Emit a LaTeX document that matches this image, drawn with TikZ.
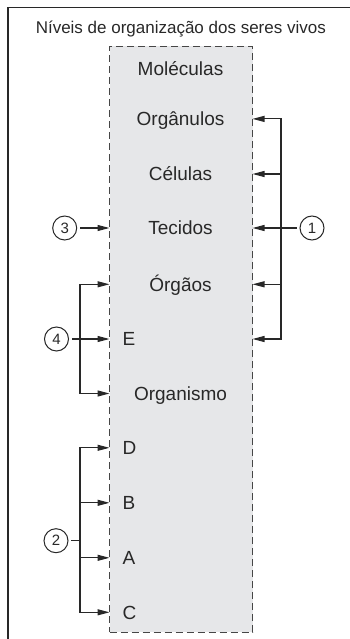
\documentclass[tikz,border=0pt]{standalone}
\usepackage{fontspec}
\setmainfont{Liberation Sans}
\usetikzlibrary{arrows.meta}
\definecolor{ink}{RGB}{40,40,40}
\definecolor{boxfill}{RGB}{230,231,233}
\definecolor{dashc}{RGB}{70,70,70}
\begin{document}
\begin{tikzpicture}[x=1pt,y=-1pt,
  lvl/.style={font=\fontsize{19}{19}\selectfont, text=ink, inner sep=0pt, text height=13.4pt, text depth=0pt},
  letter/.style={lvl, anchor=west},
  num/.style={draw=ink, circle, line width=1pt, minimum size=24pt, inner sep=0pt, font=\fontsize{15}{15}\selectfont, text=ink},
  conn/.style={draw=ink, line width=1.1pt, line cap=rect},
  arr/.style={draw=ink, line width=1.1pt, -{Triangle[length=12pt,width=6pt]}},
]
\useasboundingbox (0,0) rectangle (349,639);
\draw[ink, line width=1.6pt] (8,650) -- (8,7.5) -- (360,7.5);
\node[font=\fontsize{17}{17}\selectfont, text=ink, inner sep=0pt, text height=12.2pt, text depth=0pt] (title) at (180.8,27.5) {Níveis de organização dos seres vivos};
\node[draw=dashc, dash pattern=on 7pt off 4pt, fill=boxfill, line width=0.9pt, minimum width=143pt, minimum height=585.5pt, inner sep=0pt, outer sep=0pt] (box) at (181,339.25) {};

\node[lvl] (mol)  at (180.5,68.8)  {Moléculas};
\node[lvl] (orgn) at (180.5,118.9) {Orgânulos};
\node[lvl] (cel)  at (180.5,174)   {Células};
\node[lvl] (tec)  at (180.5,228)   {Tecidos};
\node[lvl] (orgs) at (180.5,284.3) {Órgãos};
\node[letter] (E) at (122.5,339)   {E};
\node[lvl] (orgm) at (180.5,393.5) {Organismo};
\node[letter] (D) at (122.5,447.8) {D};
\node[letter] (B) at (122.5,502.8) {B};
\node[letter] (A) at (122.5,557.8) {A};
\node[letter] (C) at (122.5,612.3) {C};

\node[num] (c1) at (312,228) {1};
\node[num] (c3) at (64.7,228) {3};
\node[num] (c4) at (56.5,339) {4};
\node[num] (c2) at (56,540.7) {2};

\coordinate (rb) at (281,0);
\coordinate (lb) at (80,0);

% bracket 1
\draw[conn] (rb |- orgn) -- (rb |- E);
\foreach \n in {orgn,cel,orgs,E} \draw[arr] (rb |- \n) -- (box.east |- \n);
\draw[arr, shorten <=3pt] (c1) -- (c1 -| box.east);

% 3
\draw[arr, shorten <=3pt] (c3) -- (c3 -| box.west);

% bracket 4
\draw[conn] (lb |- orgs) -- (lb |- orgm);
\foreach \n in {orgs,orgm} \draw[arr] (lb |- \n) -- (box.west |- \n);
\draw[arr, shorten <=3pt] (c4) -- (c4 -| box.west);

% bracket 2
\draw[conn] (lb |- D) -- (lb |- C);
\foreach \n in {D,B,A,C} \draw[arr] (lb |- \n) -- (box.west |- \n);
\draw[conn, shorten <=3pt] (c2) -- (c2 -| lb);
\end{tikzpicture}
\end{document}
